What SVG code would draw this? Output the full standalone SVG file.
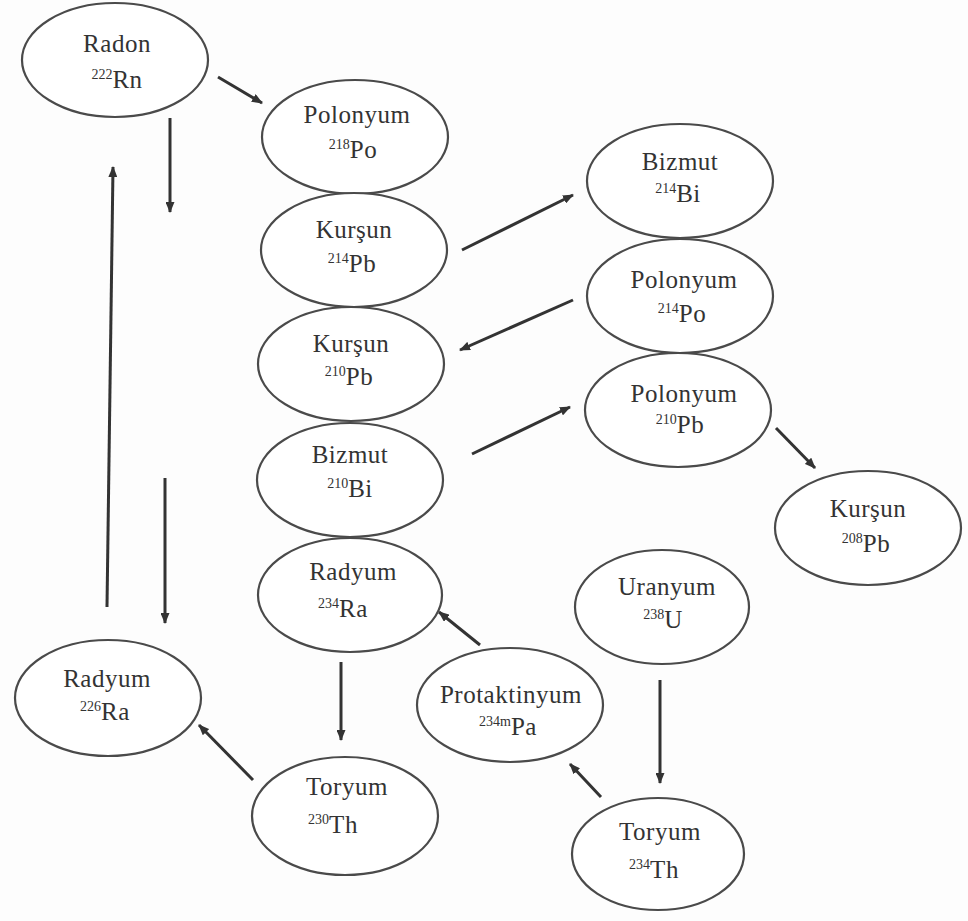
<svg xmlns="http://www.w3.org/2000/svg" width="968" height="921" viewBox="0 0 968 921">
<defs>
<marker id="ah" markerWidth="11" markerHeight="9" refX="10" refY="4.5" orient="auto" markerUnits="userSpaceOnUse">
<path d="M0,0 L11,4.5 L0,9 Z" fill="#333"/>
</marker>
<style>
.n ellipse{fill:#fff;stroke:#4a4a4a;stroke-width:2.2}
.n text{font-family:"Liberation Serif","Times New Roman",serif;font-size:25px;fill:#333;text-anchor:middle;letter-spacing:0.5px}
.n tspan.s{font-size:14px;letter-spacing:0}
#edges line{stroke:#333;stroke-width:3;marker-end:url(#ah)}
</style>
</defs>
<rect width="968" height="921" fill="#fdfdfd"/>
<g id="edges">
<line x1="218" y1="77" x2="262" y2="103"/>
<line x1="170" y1="118" x2="170" y2="212"/>
<line x1="107" y1="607" x2="113" y2="167"/>
<line x1="165" y1="478" x2="165" y2="623"/>
<line x1="462" y1="250" x2="573" y2="195"/>
<line x1="573" y1="300" x2="460" y2="350"/>
<line x1="472" y1="454" x2="570" y2="407"/>
<line x1="776" y1="428" x2="815" y2="468"/>
<line x1="341" y1="662" x2="341" y2="740"/>
<line x1="253" y1="780" x2="199" y2="725"/>
<line x1="480" y1="645" x2="439" y2="612"/>
<line x1="660" y1="680" x2="660" y2="783"/>
<line x1="601" y1="797" x2="570" y2="764"/>
</g>
<g id="rn222" class="n"><ellipse cx="115" cy="60" rx="93" ry="57"/><text x="117" y="52">Radon</text><text x="117" y="88"><tspan class="s" dy="-9">222</tspan><tspan dy="9">Rn</tspan></text></g>
<g id="po218" class="n"><ellipse cx="355" cy="137" rx="93" ry="57"/><text x="357" y="123">Polonyum</text><text x="353" y="158"><tspan class="s" dy="-9">218</tspan><tspan dy="9">Po</tspan></text></g>
<g id="pb214" class="n"><ellipse cx="354" cy="250" rx="93" ry="57"/><text x="354" y="238">Kurşun</text><text x="352" y="272"><tspan class="s" dy="-9">214</tspan><tspan dy="9">Pb</tspan></text></g>
<g id="pb210" class="n"><ellipse cx="351" cy="364" rx="93" ry="57"/><text x="351" y="352">Kurşun</text><text x="349" y="385"><tspan class="s" dy="-9">210</tspan><tspan dy="9">Pb</tspan></text></g>
<g id="bi210" class="n"><ellipse cx="350" cy="480" rx="93" ry="57"/><text x="350" y="463">Bizmut</text><text x="350" y="497"><tspan class="s" dy="-9">210</tspan><tspan dy="9">Bi</tspan></text></g>
<g id="ra234" class="n"><ellipse cx="350" cy="595" rx="92" ry="57"/><text x="353" y="580">Radyum</text><text x="343" y="617"><tspan class="s" dy="-9">234</tspan><tspan dy="9">Ra</tspan></text></g>
<g id="th230" class="n"><ellipse cx="345" cy="816" rx="93" ry="59"/><text x="347" y="795">Toryum</text><text x="333" y="833"><tspan class="s" dy="-9">230</tspan><tspan dy="9">Th</tspan></text></g>
<g id="ra226" class="n"><ellipse cx="108" cy="698" rx="93" ry="58"/><text x="107" y="687">Radyum</text><text x="105" y="720"><tspan class="s" dy="-9">226</tspan><tspan dy="9">Ra</tspan></text></g>
<g id="bi214" class="n"><ellipse cx="680" cy="181" rx="93" ry="57"/><text x="680" y="170">Bizmut</text><text x="678" y="202"><tspan class="s" dy="-9">214</tspan><tspan dy="9">Bi</tspan></text></g>
<g id="po214" class="n"><ellipse cx="680" cy="296" rx="93" ry="57"/><text x="684" y="288">Polonyum</text><text x="682" y="322"><tspan class="s" dy="-9">214</tspan><tspan dy="9">Po</tspan></text></g>
<g id="po210" class="n"><ellipse cx="678" cy="410" rx="93" ry="57"/><text x="684" y="402">Polonyum</text><text x="680" y="433"><tspan class="s" dy="-9">210</tspan><tspan dy="9">Pb</tspan></text></g>
<g id="pb208" class="n"><ellipse cx="868" cy="528" rx="93" ry="57"/><text x="868" y="517">Kurşun</text><text x="866" y="552"><tspan class="s" dy="-9">208</tspan><tspan dy="9">Pb</tspan></text></g>
<g id="u238" class="n"><ellipse cx="662" cy="607" rx="87" ry="57"/><text x="667" y="595">Uranyum</text><text x="663" y="628"><tspan class="s" dy="-9">238</tspan><tspan dy="9">U</tspan></text></g>
<g id="pa234m" class="n"><ellipse cx="510" cy="705" rx="93" ry="57"/><text x="511" y="703">Protaktinyum</text><text x="508" y="735"><tspan class="s" dy="-9">234m</tspan><tspan dy="9">Pa</tspan></text></g>
<g id="th234" class="n"><ellipse cx="658" cy="854" rx="86" ry="56"/><text x="660" y="840">Toryum</text><text x="654" y="878"><tspan class="s" dy="-9">234</tspan><tspan dy="9">Th</tspan></text></g>
</svg>
